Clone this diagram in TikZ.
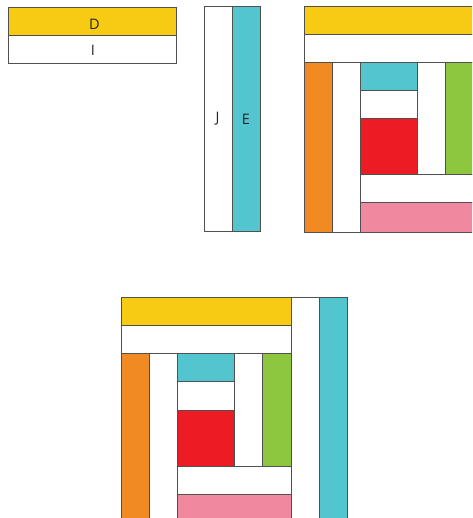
\documentclass[tikz,border=0pt]{standalone}
\usepackage{fontspec}
\setmainfont{Open Sans}
\definecolor{qyellow}{HTML}{F7CA14}
\definecolor{qcyan}{HTML}{53C5CF}
\definecolor{qorange}{HTML}{F18A22}
\definecolor{qred}{HTML}{ED1C24}
\definecolor{qgreen}{HTML}{8DC63F}
\definecolor{qpink}{HTML}{F0889F}
\definecolor{qedge}{HTML}{505050}
\tikzset{
  patch/.style={draw=qedge, line width=1pt},
  lbl/.style={font=\fontsize{14.5}{16}\selectfont, text=black!85, inner sep=0pt}
}
\begin{document}
\begin{tikzpicture}[x=1pt,y=-1pt]
\useasboundingbox (0,0) rectangle (472,518);
\begin{scope}
\clip (0,0) rectangle (472,518);
% top-left strip
\draw[patch, fill=qyellow] (8,8) rectangle (176,36);
\draw[patch, fill=white] (8,36) rectangle (176,64);
\node[lbl] (d) at (94.5,24) {D};
\node[lbl] (i) at (93,50) {I};
% J / E strips
\draw[patch, fill=white] (204,7) rectangle (232,231);
\draw[patch, fill=qcyan] (232,7) rectangle (260,231);
\node[lbl] (j) at (217.5,119) {J};
\node[lbl] (e) at (246,119) {E};
% top-right block
\begin{scope}[shift={(304,7)}]
\draw[patch, fill=qyellow] (0,0) rectangle (170,28);
\draw[patch, fill=white] (0,28) rectangle (170,56);
\draw[patch, fill=qorange] (0,56) rectangle (28,225);
\draw[patch, fill=white] (28,56) rectangle (56,225);
\draw[patch, fill=qcyan] (56,56) rectangle (113,84);
\draw[patch, fill=white] (56,84) rectangle (113,112);
\draw[patch, fill=qred] (56,112) rectangle (113,168);
\draw[patch, fill=white] (113,56) rectangle (141,168);
\draw[patch, fill=qgreen] (141,56) rectangle (170,168);
\draw[patch, fill=white] (56,168) rectangle (170,196);
\draw[patch, fill=qpink] (56,196) rectangle (170,225);
\end{scope}
% bottom block
\begin{scope}[shift={(121,297)}]
\draw[patch, fill=qyellow] (0,0) rectangle (170,28);
\draw[patch, fill=white] (0,28) rectangle (170,56);
\draw[patch, fill=qorange] (0,56) rectangle (28,226);
\draw[patch, fill=white] (28,56) rectangle (56,226);
\draw[patch, fill=qcyan] (56,56) rectangle (113,84);
\draw[patch, fill=white] (56,84) rectangle (113,113);
\draw[patch, fill=qred] (56,113) rectangle (113,169);
\draw[patch, fill=white] (113,56) rectangle (141,169);
\draw[patch, fill=qgreen] (141,56) rectangle (170,169);
\draw[patch, fill=white] (56,169) rectangle (170,197);
\draw[patch, fill=qpink] (56,197) rectangle (170,226);
\draw[patch, fill=white] (170,0) rectangle (198,226);
\draw[patch, fill=qcyan] (198,0) rectangle (226,226);
\end{scope}
\end{scope}
\end{tikzpicture}
\end{document}
